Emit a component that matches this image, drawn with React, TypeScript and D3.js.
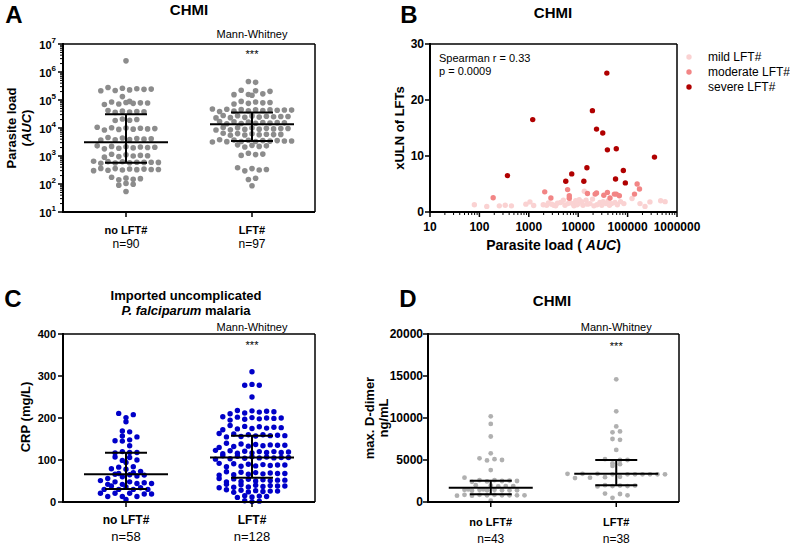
import React from "react";
import * as d3 from "d3";

const FONT = "Arial, 'Liberation Sans', Helvetica, sans-serif";
const groups = ["no LFT#", "LFT#"];

// ---------- Panel A: parasite load (AUC), log scale ----------
const aNoLFT = [
  2500000,
  280000, 263000, 251000, 245000, 240000, 229000, 219000, 214000,
  132000,
  89000, 85000, 81000, 79000, 78000, 76000, 72000, 69000,
  42000, 40000, 39000, 38000, 37000, 36000,
  21000, 20000, 19000, 18600,
  10700, 10200, 10000, 9800, 9500, 9300, 9100, 8900, 8500,
  4600, 4400, 4200, 4100, 4000, 3900, 3800, 3700,
  2300, 2200, 2150, 2100, 2050, 2000, 1950, 1900, 1800,
  1150, 1100, 1050, 1020, 1000, 950, 910,
  650, 630, 620, 600, 600, 590, 590, 575, 560, 550,
  360, 355, 345, 340, 330, 330, 325, 315, 310, 300,
  175, 162, 155, 148, 141,
  105, 98, 91, 54,
];
const aLFT = [
  457000, 427000,
  224000, 214000, 204000,
  166000, 158000, 155000, 148000,
  89000, 85000, 81000, 79000, 76000, 72000,
  48000, 47000, 46000, 45000, 44500, 44000, 43600, 43000, 42000, 41000, 40000, 39000,
  28000, 27500, 27000, 26300, 25700, 25700, 25100, 24500, 24000, 23400, 22900,
  17000, 16600, 16200, 15800, 15500, 15300, 15100, 14800, 14500, 14100,
  10500, 10200, 10000, 9800, 9550, 9550, 9300, 9100, 8900, 8700, 8500,
  6500, 6300, 6200, 6000, 5900, 5800, 5750, 5600, 5500,
  3800, 3700, 3650, 3550, 3550, 3450, 3450, 3400, 3300, 3300, 3250, 3150,
  2500, 2400, 2300, 2200, 2100,
  1250, 1170, 1120, 1050,
  380, 355, 330, 315, 295,
  160, 145,
  87,
];
// [q1, median, q3]
const aStats = [
  [575, 3100, 31000],
  [3450, 13500, 36000],
];
const aN = ["n=90", "n=97"];
const aExponents = [1, 2, 3, 4, 5, 6, 7];

// ---------- Panel B: xULN vs parasite load ----------
const bMild: [number, number][] = [
  [79, 1.3], [141, 1.0], [253, 1.1], [333, 1.2], [445, 1.1], [873, 1.4], [1055, 1.8], [1255, 1.15],
  [1960, 1.3], [2300, 1.2], [2500, 1.6], [2900, 1.4], [3200, 1.2], [3500, 1.1], [3800, 1.55],
  [4400, 1.7], [5000, 2.1], [5400, 1.2], [6200, 1.5], [6800, 1.7], [7700, 1.5], [8200, 1.1],
  [8900, 2.0], [9500, 1.3], [10000, 1.5], [10500, 2.2], [11700, 1.85], [12500, 1.2], [13300, 3.7],
  [14400, 2.1], [15500, 1.4], [17300, 1.5], [19500, 2.3], [20800, 1.1], [24000, 1.3], [27500, 1.7],
  [30000, 1.2], [32000, 1.85], [36500, 1.5], [40500, 2.0], [43000, 1.2], [47500, 1.5], [55500, 1.7],
  [62000, 1.3], [72000, 1.85], [84000, 1.5], [123000, 2.4], [178000, 1.5], [225000, 1.0],
  [283000, 1.8], [467000, 2.0], [575000, 1.85],
];
const bModerate: [number, number][] = [
  [190, 2.55], [2100, 3.6], [2800, 2.5], [6100, 4.0], [6600, 2.9], [6600, 2.45], [15400, 3.3],
  [22000, 3.2], [23500, 3.4], [33000, 3.0], [39000, 3.5], [44000, 2.5], [54000, 3.2], [59000, 3.2],
  [68000, 2.9], [138000, 3.2], [156000, 5.0], [174000, 4.1],
];
const bSevere: [number, number][] = [
  [370, 6.5], [1200, 16.5], [5600, 5.5], [7400, 6.8], [13000, 5.5], [15000, 7.9], [19400, 18.1],
  [23500, 14.8], [31400, 14.1], [38000, 24.8], [39000, 11.1], [59000, 11.3], [57000, 5.9],
  [82000, 7.4], [90000, 5.2], [350000, 9.8],
];
const bXTicks = [10, 100, 1000, 10000, 100000, 1000000];
const bYTicks = [0, 10, 20, 30];
const bLegend = ["mild LFT#", "moderate LFT#", "severe LFT#"];
const bStatsText = ["Spearman r = 0.33", "p = 0.0009"];

// ---------- Panel C: CRP ----------
const cNoLFT = [
  211, 208, 201, 191, 169, 167, 157, 155, 148, 146, 145, 134, 120, 118, 117,
  107, 106, 118, 100, 94, 99, 84, 83, 78, 73, 79, 70, 68, 66, 65, 64, 60, 62,
  51, 48, 44, 46, 48, 56, 42, 44, 38, 34, 30, 30, 30, 30, 36, 42, 21, 19, 13, 13, 6, 13, 19, 21, 21,
];
const cLFT = [
  310, 280, 278, 278, 250,
  218, 217, 216, 215, 214, 212, 210,
  203, 202, 201, 200, 200, 199, 198, 197, 195,
  182, 180, 179, 178, 177, 176, 175, 174, 172,
  163, 162, 160, 160, 159, 158, 158, 157, 156, 155,
  140, 138, 137, 136, 135, 135, 134, 133, 132, 130,
  123, 122, 121, 120, 120, 119, 118, 118, 117, 116, 115,
  110, 109, 108, 107, 106, 106, 105, 105, 104, 103, 102,
  92, 91, 90, 89, 88, 88, 87, 86, 85, 84,
  72, 71, 70, 69, 68, 68, 67, 66, 65, 64,
  56, 55, 54, 53, 52, 52, 51, 50, 49, 48,
  42, 41, 40, 39, 38, 38, 37, 36, 35, 34,
  29, 28, 27, 26, 26, 25, 24, 23,
  15, 14, 13, 12, 11,
  3, 2, 1,
];
const cStats = [
  [31, 66, 117],
  [58, 106, 158],
];
const cN = ["n=58", "n=128"];
const cTicks = [0, 100, 200, 300, 400];

// ---------- Panel D: D-dimer ----------
const dNoLFT = [
  10200, 9300, 7800, 5800, 5100, 5000, 4950, 5200, 3800, 2900,
  2600, 2550, 2500, 2500, 2450, 2600, 2400,
  1950, 1900, 1850, 2000, 1900,
  1500, 1450, 1400, 1400, 1450, 1350, 1400, 1500, 1450, 1400,
  850, 800, 800, 750, 800, 850, 800, 750, 800, 850,
  150,
];
const dLFT = [
  14600, 10800, 9000, 8400, 8300, 7400, 7500, 6200,
  5000, 5000, 5100, 4600, 4300, 4500,
  3350, 3300, 3300, 3300, 3350, 3300, 3350, 3300, 3300, 3300,
  2900, 2850, 2950, 3000,
  1950, 1900, 1850, 1900, 2000, 1950,
  950, 500, 800, 1000,
];
const dStats = [
  [910, 1700, 2540],
  [1980, 3370, 5000],
];
const dN = ["n=43", "n=38"];
const dTicks = [0, 5000, 10000, 15000, 20000];

// ---------- helpers ----------
// GraphPad-like scatter: points are grouped into rows by pixel y and spread horizontally
function swarm(ys: number[], h: number, s: number): number[] {
  const xs = new Array(ys.length).fill(0);
  const order = ys.map((_, i) => i).sort((a, b) => ys[a] - ys[b]);
  const rows: number[][] = [];
  let cur: number[] = [];
  let start = -Infinity;
  for (const i of order) {
    if (ys[i] - start > h) {
      if (cur.length) rows.push(cur);
      cur = [i];
      start = ys[i];
    } else cur.push(i);
  }
  if (cur.length) rows.push(cur);
  rows.forEach((row, ri) => {
    const k = row.length;
    const slots = d3.range(k).map((j) => (j - (k - 1) / 2) * s);
    // interleave low/high y so rows do not tilt
    const arranged: number[] = [];
    let lo = 0, hi = k - 1, t = ri;
    while (lo <= hi) arranged.push(t++ % 2 ? row[hi--] : row[lo++]);
    arranged.forEach((i, j) => (xs[i] = slots[j]));
  });
  return xs;
}

function Swarm({ values, cx, y, r, h, s, fill }: any) {
  const ys = values.map((v: number) => y(v));
  const xs = swarm(ys, h, s);
  return (
    <g>
      {values.map((_: number, i: number) => (
        <circle key={i} cx={cx + xs[i]} cy={ys[i]} r={r} fill={fill} />
      ))}
    </g>
  );
}

function Frame({ l, r, t, b }: any) {
  return (
    <g stroke="#000" fill="none">
      <line x1={l} x2={r} y1={t} y2={t} strokeWidth={1.5} />
      <line x1={r} x2={r} y1={t} y2={b} strokeWidth={1.5} />
      <line x1={l} x2={l} y1={t - 1} y2={b + 1} strokeWidth={2} />
      <line x1={l - 1} x2={r} y1={b} y2={b} strokeWidth={2} />
    </g>
  );
}

function StatBars({ stats, x, y }: any) {
  return (
    <g stroke="#000" strokeWidth={2}>
      {groups.map((g, i) => {
        const cx = x(g);
        const [q1, m, q3] = stats[i];
        return (
          <g key={g}>
            <line x1={cx - 42} x2={cx + 42} y1={y(m)} y2={y(m)} />
            <line x1={cx - 21} x2={cx + 21} y1={y(q1)} y2={y(q1)} />
            <line x1={cx - 21} x2={cx + 21} y1={y(q3)} y2={y(q3)} />
            <line x1={cx} x2={cx} y1={y(q1)} y2={y(q3)} />
          </g>
        );
      })}
    </g>
  );
}

function CatAxis({ x, b, nLabels, labY, nY, labSize, nSize }: any) {
  return (
    <g>
      {groups.map((g, i) => (
        <g key={g}>
          <line x1={x(g)} x2={x(g)} y1={b} y2={b + 5} stroke="#000" strokeWidth={1.5} />
          <text x={x(g)} y={labY} textAnchor="middle" dominantBaseline="central" fontWeight="bold" fontSize={labSize}>
            {g}
          </text>
          <text x={x(g)} y={nY} textAnchor="middle" dominantBaseline="central" fontSize={nSize}>
            {nLabels[i]}
          </text>
        </g>
      ))}
    </g>
  );
}

function Signif({ x, y1, y2 }: any) {
  const cx = x(groups[1]);
  return (
    <g>
      <text x={cx} y={y1} textAnchor="middle" dominantBaseline="central" fontSize={11}>
        Mann-Whitney
      </text>
      <text x={cx} y={y2} textAnchor="middle" dominantBaseline="central" fontSize={11}>
        ***
      </text>
    </g>
  );
}

export default function App() {
  // Panel A
  const aL = 63, aR = 315, aT = 44, aB = 212;
  const aY = d3.scaleLog().domain([10, 1e7]).range([aB, aT]);
  const aX = d3.scalePoint<string>().domain(groups).range([aL + (aR - aL) * 0.25, aL + (aR - aL) * 0.75]);
  const aMinor: number[] = [];
  aExponents.slice(0, -1).forEach((e) => {
    for (let k = 2; k <= 9; k++) aMinor.push(k * 10 ** e);
  });

  // Panel B
  const bL = 430, bR = 677, bT = 44, bB = 212;
  const bX = d3.scaleLog().domain([10, 1e6]).range([bL, bR]);
  const bY = d3.scaleLinear().domain([0, 30]).range([bB, bT]);
  const bMinor: number[] = [];
  bXTicks.slice(0, -1).forEach((t) => {
    for (let k = 2; k <= 9; k++) bMinor.push(k * t);
  });
  const bColors = ["#fad2d2", "#f28585", "#b00000"];
  const bSeries = [bMild, bModerate, bSevere];

  // Panel C
  const cL = 63, cR = 315, cT = 334, cB = 502;
  const cY = d3.scaleLinear().domain([0, 400]).range([cB, cT]);
  const cX = d3.scalePoint<string>().domain(groups).range([cL + (cR - cL) * 0.25, cL + (cR - cL) * 0.75]);

  // Panel D
  const dL = 428, dR = 679, dT = 334, dB = 502;
  const dY = d3.scaleLinear().domain([0, 20000]).range([dB, dT]);
  const dX = d3.scalePoint<string>().domain(groups).range([dL + (dR - dL) * 0.25, dL + (dR - dL) * 0.75]);

  return (
    <svg width={790} height={545} style={{ position: "absolute", left: 0, top: 0, background: "#fff" }} fontFamily={FONT}>
      <rect width={790} height={545} fill="#fff" />

      {/* ================= A ================= */}
      <text x={14} y={14} textAnchor="middle" dominantBaseline="central" fontWeight="bold" fontSize={24}>A</text>
      <text x={189} y={9} textAnchor="middle" dominantBaseline="central" fontWeight="bold" fontSize={15}>CHMI</text>
      <text transform={`translate(11,128) rotate(-90)`} textAnchor="middle" dominantBaseline="central" fontWeight="bold" fontSize={13}>
        Parasite load
      </text>
      <text transform={`translate(26,128) rotate(-90)`} textAnchor="middle" dominantBaseline="central" fontWeight="bold" fontSize={13}>
        (<tspan fontStyle="italic">AUC</tspan>)
      </text>
      <g stroke="#000" strokeWidth={1}>
        {aMinor.map((v) => (
          <line key={v} x1={aL - 3} x2={aL} y1={aY(v)} y2={aY(v)} />
        ))}
        {aExponents.map((e) => (
          <line key={e} x1={aL - 5} x2={aL} y1={aY(10 ** e)} y2={aY(10 ** e)} strokeWidth={1.5} />
        ))}
      </g>
      {aExponents.map((e) => (
        <text key={e} x={56} y={aY(10 ** e) + 1} textAnchor="end" dominantBaseline="central" fontWeight="bold" fontSize={11}>
          10<tspan dy={-5} fontSize={8}>{e}</tspan>
        </text>
      ))}
      <Swarm values={aNoLFT} cx={aX(groups[0])} y={aY} r={2.8} h={5} s={7.2} fill="#8c8c8c" />
      <Swarm values={aLFT} cx={aX(groups[1])} y={aY} r={2.8} h={5} s={7.2} fill="#8c8c8c" />
      <StatBars stats={aStats} x={aX} y={aY} />
      <Frame l={aL} r={aR} t={aT} b={aB} />
      <CatAxis x={aX} b={aB} nLabels={aN} labY={230} nY={244} labSize={11} nSize={12} />
      <Signif x={aX} y1={34} y2={54} />

      {/* ================= B ================= */}
      <text x={409} y={14} textAnchor="middle" dominantBaseline="central" fontWeight="bold" fontSize={24}>B</text>
      <text x={553} y={12} textAnchor="middle" dominantBaseline="central" fontWeight="bold" fontSize={15}>CHMI</text>
      <text transform={`translate(399,128) rotate(-90)`} textAnchor="middle" dominantBaseline="central" fontWeight="bold" fontSize={13}>
        xULN of LFTs
      </text>
      <text x={(bL + bR) / 2} y={245} textAnchor="middle" dominantBaseline="central" fontWeight="bold" fontSize={14}>
        Parasite load ( <tspan fontStyle="italic">AUC</tspan>)
      </text>
      {bSeries.map((s, si) => (
        <g key={si}>
          {s.map((p, i) => (
            <circle key={i} cx={bX(p[0])} cy={bY(p[1])} r={2.7} fill={bColors[si]} />
          ))}
        </g>
      ))}
      <Frame l={bL} r={bR} t={bT} b={bB} />
      <g stroke="#000">
        {bMinor.map((v) => (
          <line key={v} x1={bX(v)} x2={bX(v)} y1={bB} y2={bB + 3} strokeWidth={1} />
        ))}
        {bXTicks.map((v) => (
          <line key={v} x1={bX(v)} x2={bX(v)} y1={bB} y2={bB + 5} strokeWidth={1.5} />
        ))}
        {bYTicks.map((v) => (
          <line key={v} x1={bL - 5} x2={bL} y1={bY(v)} y2={bY(v)} strokeWidth={1.5} />
        ))}
      </g>
      {bXTicks.map((v) => (
        <text key={v} x={bX(v)} y={227} textAnchor="middle" dominantBaseline="central" fontWeight="bold" fontSize={12}>
          {d3.format("d")(v)}
        </text>
      ))}
      {bYTicks.map((v) => (
        <text key={v} x={424} y={bY(v)} textAnchor="end" dominantBaseline="central" fontWeight="bold" fontSize={12}>
          {v}
        </text>
      ))}
      {bStatsText.map((t, i) => (
        <text key={t} x={439} y={58 + i * 13} dominantBaseline="central" fontSize={11}>
          {t}
        </text>
      ))}
      {bLegend.map((t, i) => (
        <g key={t}>
          <circle cx={689} cy={57 + i * 15} r={2.7} fill={bColors[i]} />
          <text x={708} y={57 + i * 15} dominantBaseline="central" fontSize={12}>
            {t}
          </text>
        </g>
      ))}

      {/* ================= C ================= */}
      <text x={13} y={298} textAnchor="middle" dominantBaseline="central" fontWeight="bold" fontSize={24}>C</text>
      <text x={186} y={295} textAnchor="middle" dominantBaseline="central" fontWeight="bold" fontSize={13}>
        Imported uncomplicated
      </text>
      <text x={186} y={310} textAnchor="middle" dominantBaseline="central" fontWeight="bold" fontSize={13}>
        <tspan fontStyle="italic">P. falciparum</tspan> malaria
      </text>
      <text transform={`translate(25,417) rotate(-90)`} textAnchor="middle" dominantBaseline="central" fontWeight="bold" fontSize={13}>
        CRP (mg/L)
      </text>
      <g stroke="#000" strokeWidth={1.5}>
        {cTicks.map((v) => (
          <line key={v} x1={cL - 5} x2={cL} y1={cY(v)} y2={cY(v)} />
        ))}
      </g>
      {cTicks.map((v) => (
        <text key={v} x={56} y={cY(v)} textAnchor="end" dominantBaseline="central" fontWeight="bold" fontSize={11}>
          {v}
        </text>
      ))}
      <Swarm values={cNoLFT} cx={cX(groups[0])} y={cY} r={2.7} h={5} s={7.3} fill="#0000c8" />
      <Swarm values={cLFT} cx={cX(groups[1])} y={cY} r={2.7} h={5} s={7.3} fill="#0000c8" />
      <StatBars stats={cStats} x={cX} y={cY} />
      <Frame l={cL} r={cR} t={cT} b={cB} />
      <CatAxis x={cX} b={cB} nLabels={cN} labY={520} nY={536} labSize={12} nSize={13} />
      <Signif x={cX} y1={327} y2={345} />

      {/* ================= D ================= */}
      <text x={408} y={298} textAnchor="middle" dominantBaseline="central" fontWeight="bold" fontSize={24}>D</text>
      <text x={552} y={300} textAnchor="middle" dominantBaseline="central" fontWeight="bold" fontSize={15}>CHMI</text>
      <text transform={`translate(369,418) rotate(-90)`} textAnchor="middle" dominantBaseline="central" fontWeight="bold" fontSize={13}>
        max. D-dimer
      </text>
      <text transform={`translate(383,418) rotate(-90)`} textAnchor="middle" dominantBaseline="central" fontWeight="bold" fontSize={13}>
        ng/mL
      </text>
      <g stroke="#000" strokeWidth={1.5}>
        {dTicks.map((v) => (
          <line key={v} x1={dL - 5} x2={dL} y1={dY(v)} y2={dY(v)} />
        ))}
      </g>
      {dTicks.map((v) => (
        <text key={v} x={423} y={dY(v)} textAnchor="end" dominantBaseline="central" fontWeight="bold" fontSize={12}>
          {v}
        </text>
      ))}
      <Swarm values={dNoLFT} cx={dX(groups[0])} y={dY} r={2.4} h={4.5} s={7.5} fill="#b0b0b0" />
      <Swarm values={dLFT} cx={dX(groups[1])} y={dY} r={2.4} h={4.5} s={7.5} fill="#b0b0b0" />
      <StatBars stats={dStats} x={dX} y={dY} />
      <Frame l={dL} r={dR} t={dT} b={dB} />
      <CatAxis x={dX} b={dB} nLabels={dN} labY={522} nY={539} labSize={11} nSize={12} />
      <Signif x={dX} y1={327} y2={346} />
    </svg>
  );
}
